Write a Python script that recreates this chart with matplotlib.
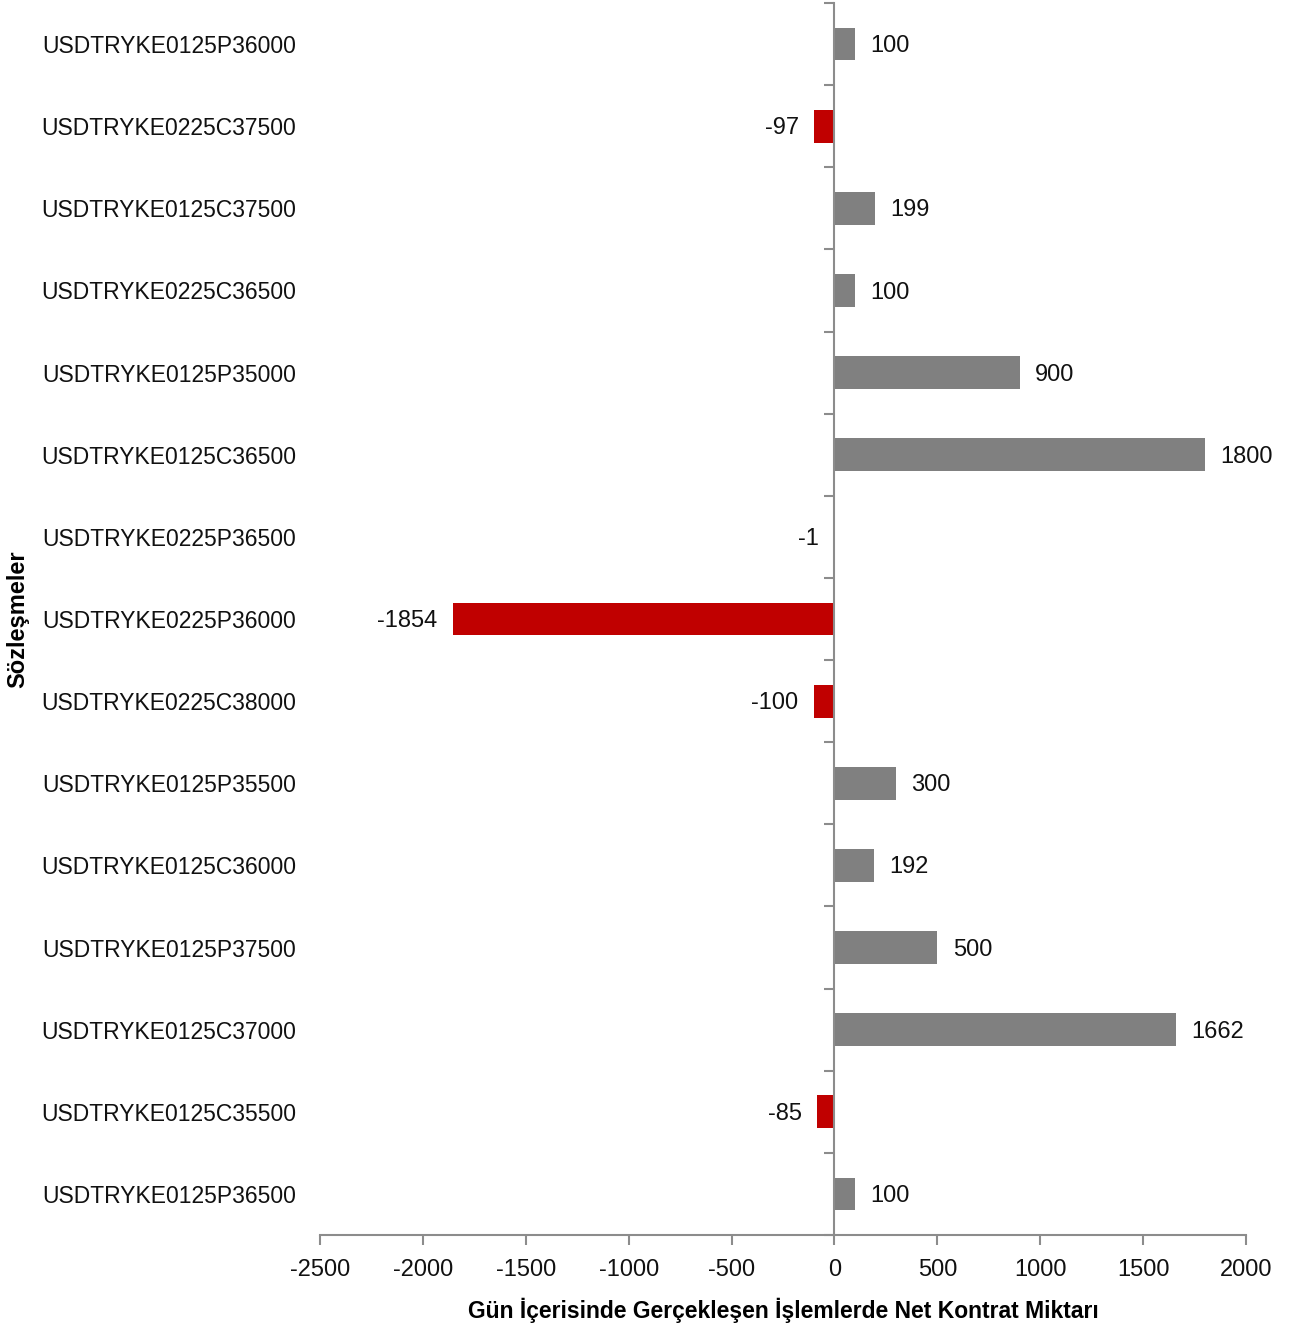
import matplotlib
matplotlib.use("Agg")
import matplotlib.pyplot as plt
import numpy as np

contracts = [
    "USDTRYKE0125P36000", "USDTRYKE0225C37500", "USDTRYKE0125C37500",
    "USDTRYKE0225C36500", "USDTRYKE0125P35000", "USDTRYKE0125C36500",
    "USDTRYKE0225P36500", "USDTRYKE0225P36000", "USDTRYKE0225C38000",
    "USDTRYKE0125P35500", "USDTRYKE0125C36000", "USDTRYKE0125P37500",
    "USDTRYKE0125C37000", "USDTRYKE0125C35500", "USDTRYKE0125P36500",
]
net_contracts = [100, -97, 199, 100, 900, 1800, -1, -1854, -100, 300, 192, 500, 1662, -85, 100]
x_ticks = [-2500, -2000, -1500, -1000, -500, 0, 500, 1000, 1500, 2000]

POS_COLOR = "#808080"
NEG_COLOR = "#C00000"
AXIS_COLOR = "#8C8C8C"
label_font = ["Liberation Sans", "DejaVu Sans"]

fig = plt.figure(figsize=(12.96, 13.32), dpi=100)
ax = fig.add_axes([320 / 1296, 1 - 1235 / 1332, 926 / 1296, 1232 / 1332])

y = np.arange(len(contracts))
colors = [POS_COLOR if v >= 0 else NEG_COLOR for v in net_contracts]
ax.barh(y, net_contracts, height=0.4, color=colors, zorder=2)

ax.set_xlim(x_ticks[0], x_ticks[-1])
ax.set_ylim(len(contracts) - 0.5, -0.5)

# Spines
for s in ["top", "right"]:
    ax.spines[s].set_visible(False)
ax.spines["left"].set_position(("data", 0))
ax.spines["left"].set_color(AXIS_COLOR)
ax.spines["left"].set_linewidth(1.5)
ax.spines["bottom"].set_color(AXIS_COLOR)
ax.spines["bottom"].set_linewidth(1.5)

# x ticks
ax.set_xticks(x_ticks)
ax.set_xticklabels([str(t) for t in x_ticks], family=label_font, fontsize=17, color="#111111")
ax.tick_params(axis="x", direction="out", length=7, width=1.5, color=AXIS_COLOR, pad=10)

# y ticks on the zero spine: boundaries only
ax.set_yticks(np.arange(len(contracts) + 1) - 0.5, minor=True)
ax.set_yticks([])
ax.tick_params(axis="y", which="minor", direction="out", length=7, width=1.5, color=AXIS_COLOR)

# category labels at the low position (left edge)
sec = ax.secondary_yaxis("left")
sec.set_yticks(y)
sec.set_yticklabels(contracts, family=label_font, fontsize=16.5, color="#111111")
sec.spines["left"].set_visible(False)
sec.tick_params(axis="y", length=0, pad=17)

# value labels
for yi, v in zip(y, net_contracts):
    if v >= 0:
        ax.annotate(str(v), (v, yi), xytext=(11, -1.5), textcoords="offset points",
                    ha="left", va="center", fontsize=17, family=label_font, color="#111111")
    else:
        ax.annotate(str(v), (v, yi), xytext=(-11, -1.5), textcoords="offset points",
                    ha="right", va="center", fontsize=17, family=label_font, color="#111111")

ax.set_xlabel("Gün İçerisinde Gerçekleşen İşlemlerde Net Kontrat Miktarı",
              family=label_font, fontsize=16.5, fontweight="bold", labelpad=12)
fig.text(18 / 1296, 1 - 619 / 1332, "Sözleşmeler", rotation=90, ha="center", va="center",
         family=label_font, fontsize=17, fontweight="bold")

fig.savefig("out.png", dpi=100)
